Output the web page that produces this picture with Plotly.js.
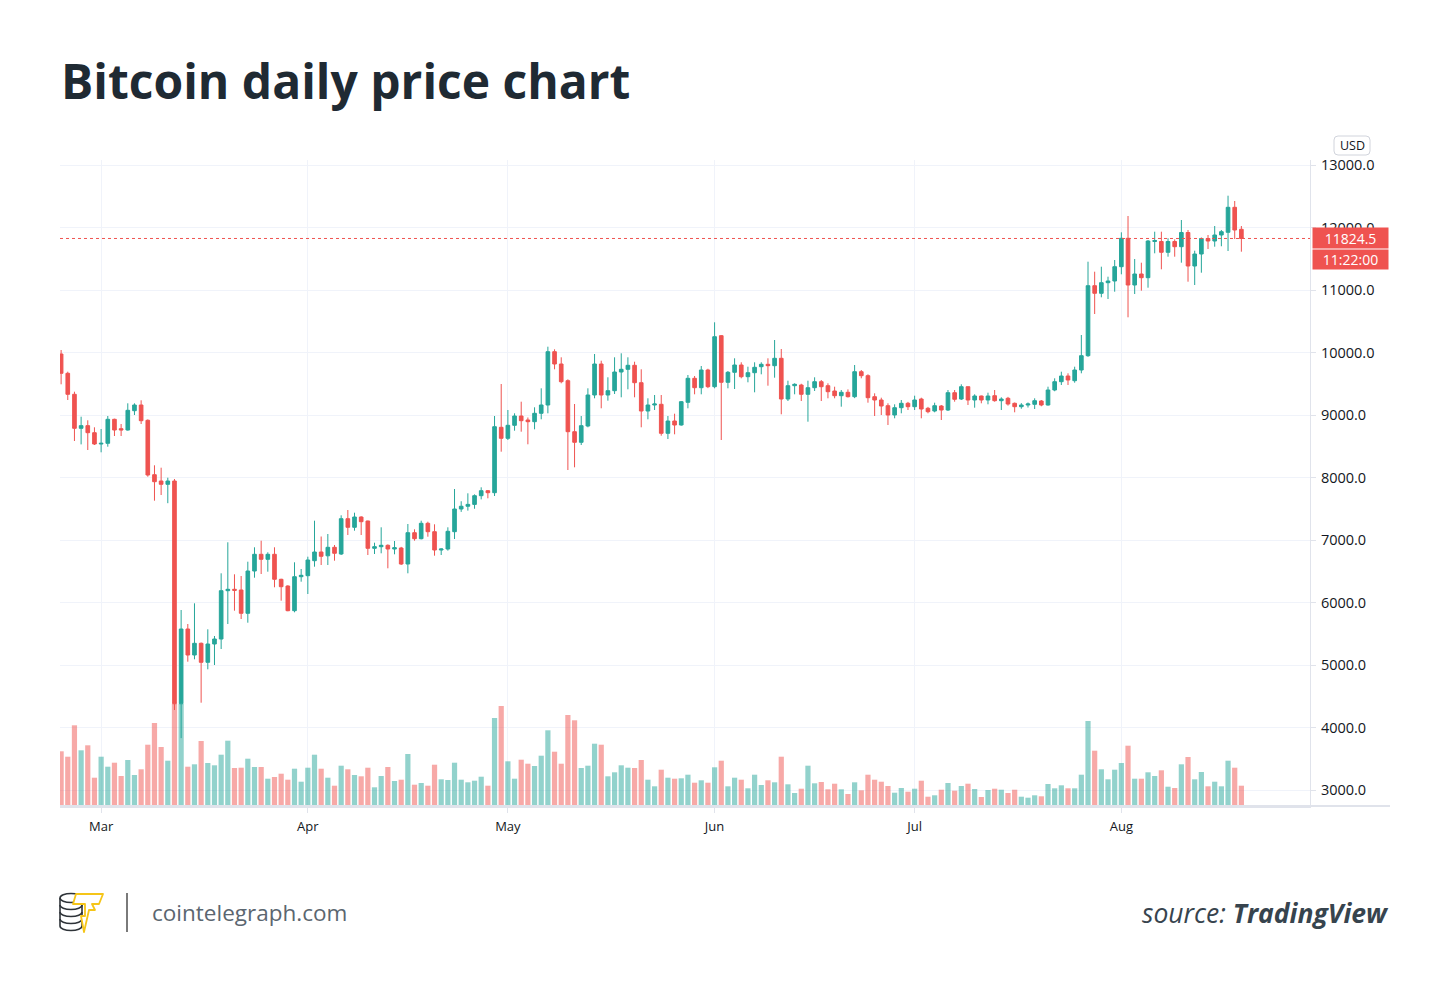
<!DOCTYPE html>
<html>
<head>
<meta charset="utf-8">
<script src="https://cdn.plot.ly/plotly-3.0.1.min.js"></script>
<style>
  html, body { margin: 0; padding: 0; background: #ffffff; }
  #chart { width: 1450px; height: 993px; }
</style>
</head>
<body>
<div id="chart"></div>
<script>
// ---- Data (daily BTC/USD, 2020-02-24 .. 2020-08-19) ----
const startDate = '2020-02-24';

const opens = [
  9976, 9667, 9331, 8787, 8830, 8717,
  8536, 8547, 8931, 8781, 8760, 9069, 9160, 8915, 8045, 7944, 7891, 7944, 4380, 5576, 5160, 5347, 5043, 5336, 5416, 6189, 6211, 6200, 5827, 6504, 6771, 6691, 6771, 6371, 6264, 5869, 6413,
  6429, 6669, 6808, 6747, 6883, 6776, 7341, 7203, 7368, 7304, 6867, 6893, 6915, 6856, 6872, 6616, 7117, 7021, 7267, 7133, 6840, 6856, 7133, 7496, 7540, 7570, 7709, 7789, 7757, 8803,
  8627, 8835, 8984, 8920, 8893, 9027, 9160, 10013, 9816, 9549, 8733, 8563, 8824, 9320, 9816, 9320, 9389, 9688, 9731, 9795, 9517, 9064, 9160, 9171, 8707, 8904, 8840, 9203, 9587, 9437, 9720,
  9453, 10269, 9523, 9683, 9800, 9613, 9677, 9773, 9811, 9789, 9907, 9256, 9469, 9480, 9331, 9437, 9533, 9469, 9384, 9309, 9363, 9293, 9693, 9629, 9293, 9240, 9149, 9000, 9117, 9187,
  9133, 9256, 9107, 9064, 9144, 9080, 9357, 9256, 9453, 9240, 9304, 9240, 9309, 9229, 9267, 9187, 9133, 9160, 9171, 9224, 9160, 9400, 9533, 9624, 9549, 9720, 9949, 11069, 10947, 11117, 11144,
  11373, 11827, 11080, 11256, 11197, 11776, 11776, 11603, 11776, 11693, 11920, 11384, 11576, 11824, 11784, 11880, 11923, 12323, 11971
];
const highs = [
  10040, 9693, 9373, 8973, 8915, 8803,
  8776, 8984, 8941, 8856, 9187, 9187, 9235, 8930, 8195, 8157, 7997, 7976, 5880, 5656, 5987, 5360, 5571, 5464, 6467, 6963, 6451, 6424, 6653, 6883, 6989, 6803, 6883, 6380, 6275, 6643, 6536,
  6733, 7309, 7056, 7096, 6920, 7395, 7480, 7437, 7380, 7310, 6957, 7203, 6930, 6984, 6890, 7256, 7171, 7309, 7293, 7251, 6865, 7203, 7816, 7620, 7747, 7730, 7843, 7800, 8984, 9496,
  9080, 9027, 9213, 8960, 9123, 9427, 10093, 10051, 9923, 9571, 9176, 8984, 9427, 9976, 9869, 9603, 9923, 9987, 9923, 9853, 9731, 9267, 9320, 9320, 8984, 9021, 9224, 9640, 9624, 9784, 9740,
  10483, 10280, 9704, 9907, 9843, 9773, 9843, 9843, 9907, 10200, 10056, 9549, 9507, 9500, 9549, 9603, 9560, 9507, 9453, 9400, 9410, 9800, 9720, 9651, 9347, 9277, 9187, 9171, 9240, 9210,
  9309, 9277, 9130, 9197, 9160, 9400, 9400, 9491, 9453, 9331, 9310, 9357, 9400, 9283, 9290, 9200, 9190, 9200, 9267, 9240, 9453, 9587, 9693, 9667, 9773, 10280, 11453, 11293, 11373, 11213, 11480,
  11923, 12184, 11496, 11437, 11800, 11933, 11933, 11827, 11810, 12120, 11960, 11629, 11840, 11880, 12024, 11960, 12509, 12424, 12024
];
const lows = [
  9491, 9240, 8584, 8530, 8440, 8520,
  8403, 8493, 8664, 8664, 8750, 9000, 8856, 8013, 7629, 7720, 7589, 4280, 3830, 5053, 5091, 4397, 4931, 5000, 5256, 5656, 5869, 5736, 5677, 6397, 6456, 6493, 6243, 6029, 5860, 5843, 6333,
  6136, 6573, 6600, 6600, 6669, 6760, 7080, 7149, 7080, 6760, 6776, 6787, 6547, 6771, 6600, 6467, 6989, 7010, 7053, 6749, 6760, 6830, 7016, 7450, 7470, 7500, 7650, 7667, 7704, 8413,
  8600, 8749, 8733, 8531, 8771, 8931, 9027, 9731, 9507, 8120, 8163, 8520, 8803, 9267, 9107, 9229, 9336, 9283, 9411, 9283, 8803, 8931, 9080, 8669, 8616, 8691, 8830, 9107, 9331, 9331, 9430,
  9427, 8600, 9427, 9416, 9587, 9523, 9363, 9651, 9469, 9597, 9011, 9224, 9331, 9224, 8893, 9384, 9224, 9267, 9267, 9133, 9280, 9270, 9587, 9197, 8984, 9000, 8840, 8947, 9027, 9080,
  9080, 8947, 9027, 9043, 8920, 9064, 9213, 9240, 9160, 9117, 9187, 9171, 9213, 9080, 9150, 9043, 9100, 9120, 9096, 9140, 9150, 9380, 9480, 9480, 9517, 9667, 9930, 10616, 10883, 10856, 10973,
  11251, 10563, 10936, 10989, 11037, 11587, 11331, 11533, 11533, 11437, 11133, 11080, 11277, 11656, 11693, 11700, 11624, 11816, 11613
];
const closes = [
  9667, 9331, 8787, 8830, 8717, 8536,
  8547, 8931, 8760, 8760, 9075, 9160, 8909, 8040, 7933, 7891, 7944, 4380, 5576, 5160, 5347, 5043, 5336, 5416, 6189, 6211, 6195, 5827, 6504, 6771, 6691, 6771, 6371, 6253, 5869, 6413, 6435,
  6680, 6808, 6739, 6883, 6787, 7341, 7203, 7368, 7293, 6867, 6893, 6915, 6856, 6877, 6616, 7117, 7021, 7267, 7133, 6840, 6856, 7139, 7496, 7540, 7570, 7709, 7789, 7757, 8813, 8627,
  8835, 8984, 8909, 8893, 9027, 9160, 10013, 9816, 9533, 8733, 8563, 8829, 9320, 9816, 9320, 9389, 9688, 9731, 9795, 9517, 9064, 9160, 9176, 8707, 8904, 8840, 9213, 9587, 9437, 9720, 9453,
  10253, 9523, 9683, 9800, 9613, 9677, 9763, 9811, 9789, 9907, 9256, 9469, 9491, 9331, 9437, 9533, 9453, 9373, 9309, 9363, 9293, 9693, 9629, 9277, 9240, 9144, 9000, 9117, 9187, 9133,
  9240, 9096, 9053, 9149, 9080, 9357, 9251, 9453, 9240, 9304, 9240, 9304, 9229, 9256, 9176, 9133, 9160, 9176, 9229, 9160, 9400, 9533, 9624, 9560, 9720, 9949, 11069, 10947, 11117, 11144, 11373,
  11827, 11080, 11256, 11197, 11784, 11792, 11603, 11776, 11693, 11920, 11384, 11576, 11824, 11784, 11880, 11933, 12323, 11960, 11824.5
];
// Volume (thousand BTC, relative scale)
const volumes = [
  54.7, 49.3, 80.7, 55.7, 60.7, 28.3,
  49.3, 39.3, 43.3, 30, 46, 31, 36.7, 61.3, 83, 59, 45.3, 102, 102, 39.3, 41.7, 65, 43, 40.7, 51.3, 65.3, 38, 38.3, 47.3, 39, 39, 27.3, 29, 32.3, 26.3, 37.3, 24.3,
  38.3, 51.3, 37.3, 28.3, 20.3, 40.3, 36.7, 31, 29.7, 38.3, 18.7, 30, 39, 25, 26.3, 52, 21.3, 23, 20.3, 41.3, 26.7, 26, 43.3, 26.3, 23.7, 25.3, 29.3, 20.3, 88, 100,
  44.7, 27.3, 46.3, 42.3, 40, 50.3, 75.7, 54.3, 42.3, 91, 85.7, 38, 40.3, 62.3, 61.3, 29.7, 33.7, 40.7, 38.3, 38, 46, 26.3, 19.7, 36.3, 28.3, 27.3, 27.7, 31.3, 23.3, 25.7, 23.3,
  38.7, 45.3, 19.7, 28.3, 26.3, 17.7, 31.3, 21, 25.7, 23.7, 49.3, 21.7, 13, 17.3, 40.3, 22.7, 24, 16.7, 22.3, 16.7, 12, 23.7, 15.7, 31.3, 26.3, 24.3, 20, 13.3, 18, 14.3,
  17.3, 25.3, 9.3, 10.7, 16.3, 23, 15.3, 20, 22.3, 17, 9, 16, 17.3, 16.3, 13, 16.3, 9.3, 8.3, 10.7, 9.7, 22, 17.7, 20.7, 17.7, 17.7, 31.3, 85, 55.3, 36.7, 26.7, 36.3,
  43, 60.3, 27.3, 27.3, 33.7, 30, 35.7, 19.3, 18, 41.7, 49, 26.7, 34, 19.7, 24.3, 19.7, 45.3, 38.3, 20.3
];
const lastPrice = 11824.5;
const lastPriceLabel = '11824.5';
const countdownLabel = '11:22:00';
const currencyLabel = 'USD';
const titleText = 'Bitcoin daily price chart';
const siteText = 'cointelegraph.com';

// ---- Build calendar dates (consecutive days) ----
const dates = [];
(function () {
  const d0 = new Date(startDate + 'T00:00:00Z');
  for (let i = 0; i < closes.length; i++) {
    const d = new Date(d0.getTime() + i * 86400000);
    dates.push(d.toISOString().slice(0, 10));
  }
})();

const UP = '#26a69a', DOWN = '#ef5350';
const volColors = closes.map((c, i) => c >= opens[i] ? 'rgba(38,166,154,0.5)' : 'rgba(239,83,80,0.5)');

// ---- Pixel helpers for decoration placement ----
const W = 1450, H = 993;
const M = { l: 60, r: 140, t: 160, b: 187 };
const PW = W - M.l - M.r, PH = H - M.t - M.b;
const px = X => (X - M.l) / PW;
const py = Y => (H - M.b - Y) / PH;

const FONT = 'Open Sans, Roboto, sans-serif';

const logoSvg =
  '<svg xmlns="http://www.w3.org/2000/svg" width="46" height="44" viewBox="0 0 46 44">' +
  '<g fill="none" stroke="#2e3338" stroke-width="1.6">' +
  '<path d="M2 8 L2 36 A11 4.5 0 0 0 24 36 L24 8"/>' +
  '<path d="M2 15 A11 4.5 0 0 0 24 15"/>' +
  '<path d="M2 22 A11 4.5 0 0 0 24 22"/>' +
  '<path d="M2 29 A11 4.5 0 0 0 24 29"/>' +
  '<ellipse cx="13" cy="8" rx="11" ry="4.5" fill="#ffffff"/>' +
  '</g>' +
  '<path d="M18 4 L45 4 L41 14 L34 14 L37 20 L31 20 L26 42 L23 26 L27 26 L27 14 L15 14 Z" fill="#ffffff" stroke="#f5c518" stroke-width="1.8" stroke-linejoin="round"/>' +
  '</svg>';

const data = [
  {
    type: 'bar', x: dates, y: volumes, xaxis: 'x', yaxis: 'y',
    marker: { color: volColors, line: { width: 0 } },
    hoverinfo: 'skip', showlegend: false
  },
  {
    type: 'candlestick', x: dates, open: opens, high: highs, low: lows, close: closes,
    xaxis: 'x', yaxis: 'y2',
    increasing: { line: { color: UP, width: 1 }, fillcolor: UP },
    decreasing: { line: { color: DOWN, width: 1 }, fillcolor: DOWN },
    whiskerwidth: 0, showlegend: false, hoverinfo: 'skip'
  }
];

const layout = {
  width: W, height: H,
  margin: M,
  paper_bgcolor: '#ffffff', plot_bgcolor: '#ffffff',
  showlegend: false,
  bargap: 0.22,
  boxgap: 0.22,
  font: { family: FONT, color: '#131722' },
  title: {
    text: '<b>' + titleText + '</b>',
    font: { family: FONT, size: 48, color: '#1f2a33' },
    x: 61 / W, xanchor: 'left', xref: 'container',
    y: 1 - 82 / H, yanchor: 'middle', yref: 'container'
  },
  xaxis: {
    type: 'date',
    range: ['2020-02-23 20:00', '2020-08-29 07:00'],
    rangeslider: { visible: false },
    showgrid: true, gridcolor: '#f0f3fa', gridwidth: 1,
    tick0: '2020-03-01', dtick: 'M1', tickformat: '%b',
    ticks: 'outside', ticklen: 5, tickcolor: '#e0e3eb',
    ticklabelstandoff: 2,
    showline: true, linecolor: '#e0e3eb', linewidth: 2,
    tickfont: { family: FONT, size: 13, color: '#131722' },
    zeroline: false, fixedrange: true
  },
  yaxis: {
    range: [0, PH], visible: false, showgrid: false, zeroline: false, fixedrange: true
  },
  yaxis2: {
    overlaying: 'y', side: 'right',
    range: [2744, 13080],
    tick0: 0, dtick: 1000, tickformat: '.1f',
    showgrid: true, gridcolor: '#f0f3fa', gridwidth: 1,
    ticks: 'outside', ticklen: 5, tickcolor: '#e0e3eb',
    ticklabelstandoff: 2,
    showline: true, linecolor: '#e0e3eb', linewidth: 1,
    tickfont: { family: FONT, size: 14.5, color: '#131722' },
    zeroline: false, fixedrange: true
  },
  shapes: [
    { type: 'line', xref: 'paper', yref: 'y2', x0: 0, x1: 1, y0: lastPrice, y1: lastPrice,
      line: { color: DOWN, width: 1, dash: 'dot' } },
    { type: 'line', xref: 'paper', yref: 'paper', x0: 0, x1: px(1390), y0: 0, y1: 0,
      line: { color: '#e0e3eb', width: 2 } },
    { type: 'line', xref: 'paper', yref: 'paper', x0: px(127), x1: px(127), y0: py(893), y1: py(932),
      line: { color: '#7a7a7a', width: 2 } },
    { type: 'path', xref: 'paper', yref: 'paper',
      path: 'M ' + px(1338) + ' ' + py(136) + ' L ' + px(1366) + ' ' + py(136) +
            ' Q ' + px(1370) + ' ' + py(136) + ' ' + px(1370) + ' ' + py(140) +
            ' L ' + px(1370) + ' ' + py(151) +
            ' Q ' + px(1370) + ' ' + py(155) + ' ' + px(1366) + ' ' + py(155) +
            ' L ' + px(1338) + ' ' + py(155) +
            ' Q ' + px(1334) + ' ' + py(155) + ' ' + px(1334) + ' ' + py(151) +
            ' L ' + px(1334) + ' ' + py(140) +
            ' Q ' + px(1334) + ' ' + py(136) + ' ' + px(1338) + ' ' + py(136) + ' Z',
      line: { color: '#d1d4dc', width: 1 }, fillcolor: '#ffffff' }
  ],
  images: [
    { source: 'data:image/svg+xml;charset=utf-8,' + encodeURIComponent(logoSvg),
      xref: 'paper', yref: 'paper', x: px(58), y: py(890), sizex: 46 / PW, sizey: 44 / PH,
      xanchor: 'left', yanchor: 'top', sizing: 'stretch', layer: 'above' }
  ],
  annotations: [
    { xref: 'paper', yref: 'paper', x: px(1352), y: py(145.5), xanchor: 'center', yanchor: 'middle',
      text: currencyLabel, showarrow: false, font: { family: FONT, size: 12.5, color: '#131722' } },
    { xref: 'paper', yref: 'y2', x: px(1312), y: lastPrice, xanchor: 'left', yanchor: 'middle',
      text: lastPriceLabel, showarrow: false, bgcolor: DOWN, borderpad: 2, width: 71, height: 16,
      font: { family: FONT, size: 14, color: '#ffffff' } },
    { xref: 'paper', yref: 'paper', x: px(1312), y: py(259), xanchor: 'left', yanchor: 'middle',
      text: countdownLabel, showarrow: false, bgcolor: DOWN, borderpad: 2, width: 71, height: 15,
      font: { family: FONT, size: 14, color: '#ffffff' } },
    { xref: 'paper', yref: 'paper', x: px(150), y: py(912), xanchor: 'left', yanchor: 'middle',
      text: siteText, showarrow: false, font: { family: FONT, size: 22.5, color: '#5b6670' } },
    { xref: 'paper', yref: 'paper', x: px(1391), y: py(913), xanchor: 'right', yanchor: 'middle',
      text: '<i>source: </i><b><i>TradingView</i></b>', showarrow: false,
      font: { family: FONT, size: 26.5, color: '#37444e' } }
  ]
};

Plotly.newPlot('chart', data, layout, { staticPlot: true, displayModeBar: false });
</script>
</body>
</html>
